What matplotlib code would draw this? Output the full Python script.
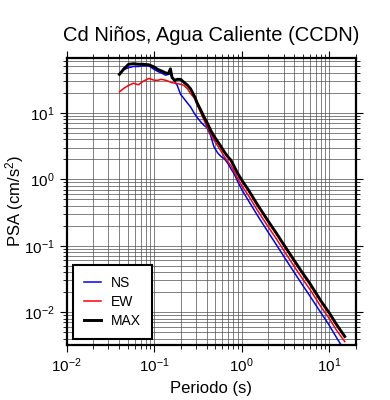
import matplotlib
matplotlib.use("Agg")
import matplotlib.pyplot as plt

plt.rcParams["font.family"] = ["Liberation Sans", "DejaVu Sans"]
plt.rcParams["mathtext.default"] = "regular"

# periods (s)
periods = [0.040, 0.045, 0.051, 0.058, 0.066, 0.075, 0.087, 0.10, 0.11, 0.12,
           0.135, 0.145, 0.153, 0.16, 0.171, 0.183, 0.20, 0.218, 0.24, 0.26,
           0.29, 0.31, 0.34, 0.37, 0.40, 0.44, 0.48, 0.53, 0.58, 0.63,
           0.69, 0.75, 0.82, 0.90, 1.0, 1.2, 1.5, 2.0, 2.5, 3.0,
           4.0, 5.0, 6.0, 7.0, 8.0, 9.0, 10.0, 12.0, 15.0]

psa_ns = [39, 45, 48, 50, 50, 51, 51, 45, 42, 40,
          37, 38, 39, 34, 30, 26, 19, 16.5, 14, 12.3,
          9.6, 8.5, 7.3, 6.5, 6.0, 4.6, 3.1, 2.5, 2.2, 2.05,
          1.75, 1.45, 1.2, 0.92, 0.70, 0.47, 0.29, 0.16, 0.102, 0.07,
          0.039, 0.025, 0.0175, 0.0128, 0.0098, 0.0078, 0.0063, 0.0042, 0.0026]

psa_ew = [20.7, 23.5, 26, 28, 26.5, 30, 33, 31, 31, 32,
          31, 30, 29, 28.5, 28, 27.5, 27, 26, 23, 19.5,
          16.5, 13.2, 10.0, 7.8, 6.2, 4.9, 3.9, 3.2, 2.65, 2.2,
          1.85, 1.62, 1.3, 1.02, 0.80, 0.56, 0.345, 0.193, 0.125, 0.086,
          0.048, 0.031, 0.022, 0.016, 0.0121, 0.0097, 0.008, 0.0054, 0.0036]

psa_max = [38, 46, 54, 55, 54, 54, 53, 49, 45, 43,
           40, 39, 46, 34, 31, 32, 32, 29, 26, 23,
           17.5, 14, 11, 8.7, 7.2, 5.5, 4.5, 3.7, 3.1, 2.6,
           2.2, 1.95, 1.55, 1.22, 0.97, 0.68, 0.42, 0.235, 0.152, 0.105,
           0.059, 0.038, 0.027, 0.0195, 0.0148, 0.0118, 0.0097, 0.0066, 0.0043]

fig = plt.figure(figsize=(3.9, 4.0), dpi=100)
ax = fig.add_axes([0.171, 0.1375, 0.741, 0.7185])

ax.plot(periods, psa_ns, color="blue", lw=1.1, label="NS")
ax.plot(periods, psa_ew, color="red", lw=1.1, label="EW")
ax.plot(periods, psa_max, color="black", lw=2.1, label="MAX")

ax.set_xscale("log")
ax.set_yscale("log")
ax.set_xlim(0.01, 20)
ax.set_ylim(0.0032, 68)

ax.grid(True, which="both", color="0.3", lw=0.5)
ax.set_axisbelow(True)
ax.tick_params(which="both", direction="out", top=True, right=True,
               labelsize=11, color="black")
ax.tick_params(which="major", length=5, width=0.8)
ax.tick_params(which="minor", length=3, width=0.6)
for s in ax.spines.values():
    s.set_linewidth(1.6)

ax.set_title("Cd Niños, Agua Caliente (CCDN)", fontsize=14.5, pad=12)
ax.set_xlabel("Periodo (s)", fontsize=12)
ax.set_ylabel("PSA (cm/s$^2$)", fontsize=12)
ax.yaxis.set_label_coords(-0.14, 0.5)

leg = ax.legend(loc="lower left", fontsize=10, handlelength=1.2,
                handletextpad=0.7, fancybox=False, framealpha=1,
                edgecolor="black", borderpad=0.8, labelspacing=0.35,
                borderaxespad=0.45)
leg.get_frame().set_linewidth(1.5)

fig.savefig("out.png", dpi=100)
